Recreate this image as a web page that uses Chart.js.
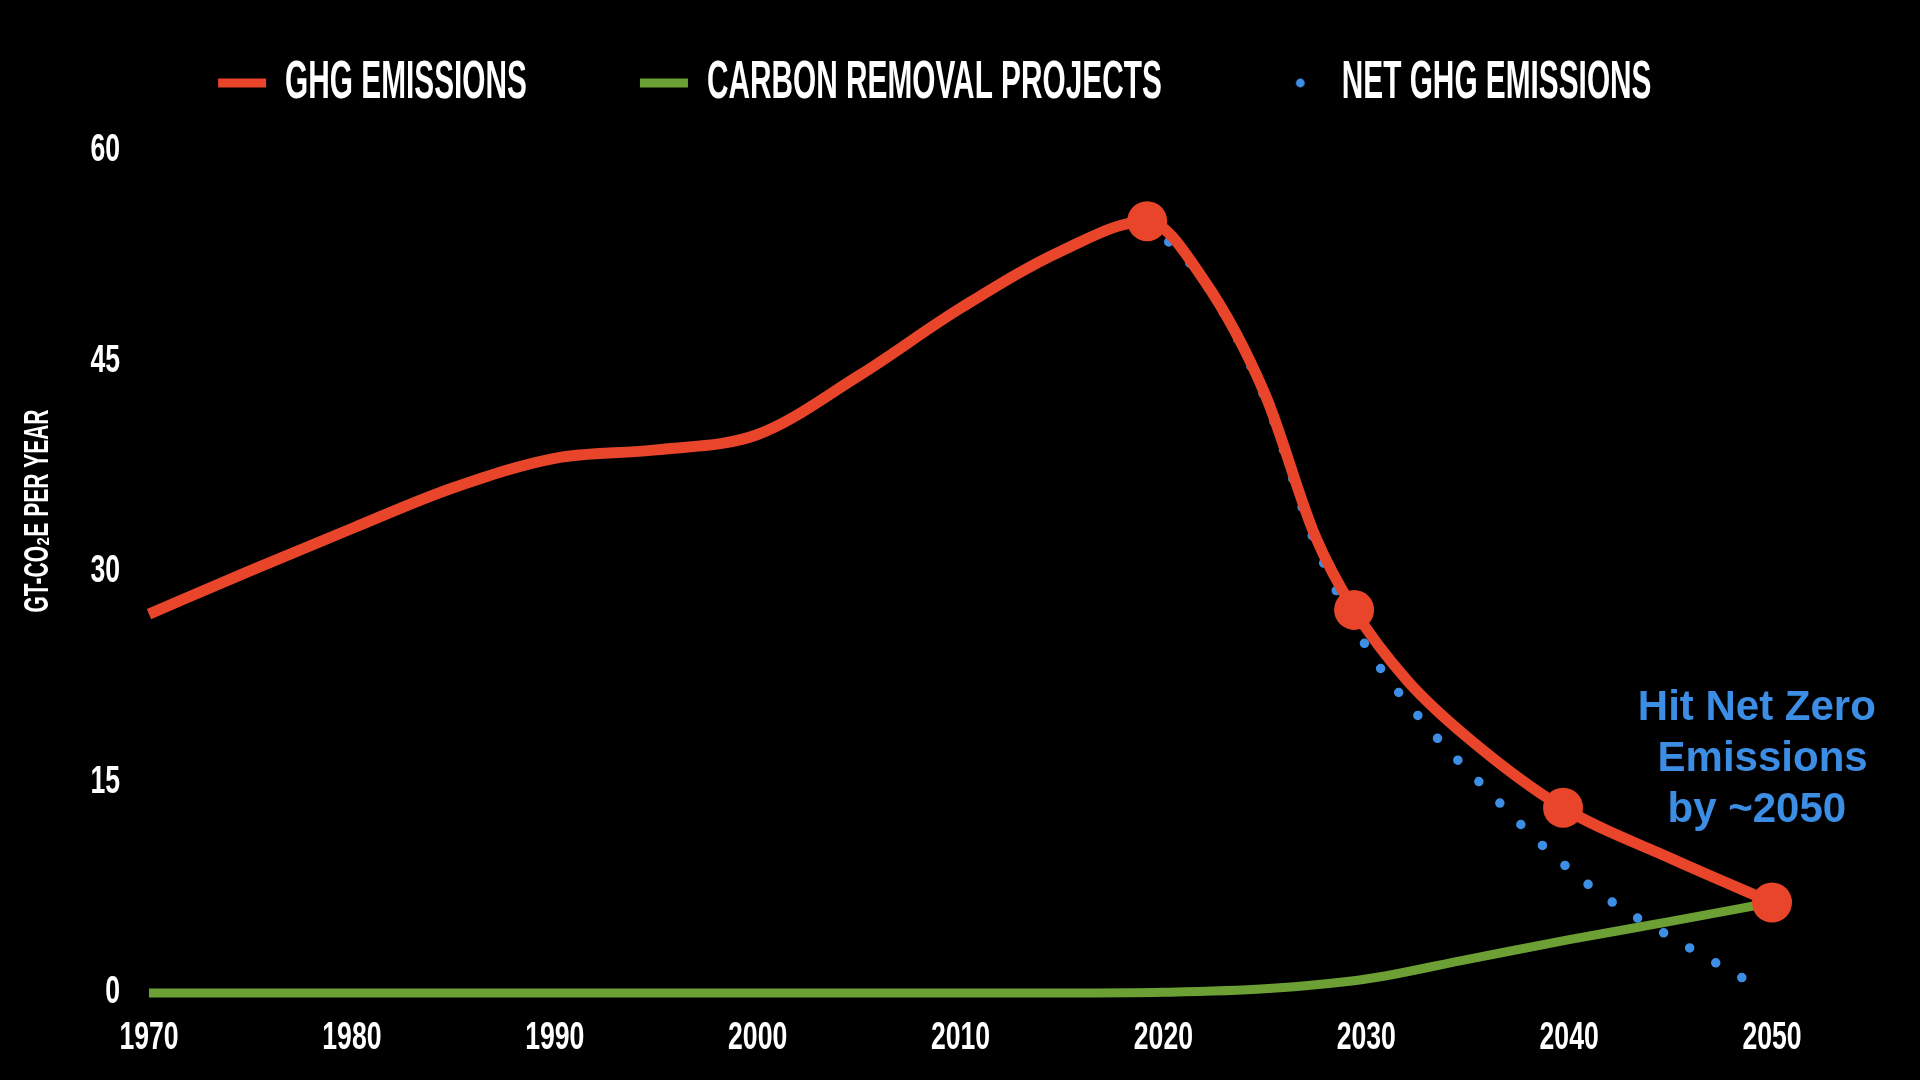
<!DOCTYPE html>
<html>
<head>
<meta charset="utf-8">
<title>GHG emissions and carbon removal</title>
<script src="https://cdn.jsdelivr.net/npm/chart.js@4.4.1/dist/chart.umd.min.js"></script>
<style>
  html, body { margin: 0; padding: 0; background: #000; }
  #wrap { width: 1920px; height: 1080px; }
</style>
</head>
<body>
<div id="wrap"><canvas id="chart" width="1920" height="1080"></canvas></div>
<script>
// ---------------- data ----------------
const ghgYears   = [1970, 1975, 1980, 1985, 1990, 1995, 2000, 2005, 2010, 2015, 2019.2, 2022, 2025, 2027.5, 2029.4, 2032, 2035, 2039.7, 2045, 2050];
const ghgValues  = [27.0, 30.1, 33.1, 36.0, 38.1, 38.7, 39.8, 44.0, 48.8, 52.9, 55.0, 50.8, 42.7, 32.5, 27.3, 22.3, 18.2, 13.2, 9.6, 6.45];
const ghgMarkerYears = [2019.2, 2029.4, 2039.7, 2050];

const removalYears  = [1970, 1990, 2010, 2015, 2020, 2025, 2030, 2035, 2040, 2045, 2050];
const removalValues = [0, 0, 0, 0, 0.05, 0.3, 1.0, 2.4, 3.8, 5.1, 6.45];

const netYears  = [2019.2, 2022, 2025, 2027.5, 2030, 2033, 2036, 2039, 2042, 2045, 2049];
const netValues = [55.0, 50.7, 42.4, 32.0, 24.7, 19.0, 14.4, 10.1, 6.6, 4.0, 0.7];

const seriesLabels = ['GHG EMISSIONS', 'CARBON REMOVAL PROJECTS', 'NET GHG EMISSIONS'];
const xTickYears  = [1970, 1980, 1990, 2000, 2010, 2020, 2030, 2040, 2050];
const yTickValues = [0, 15, 30, 45, 60];
const yAxisTitle  = 'GT-CO\u2082E PER YEAR';
const annotationLines = ['Hit Net Zero', ' Emissions', 'by ~2050'];
const annotationAt = { x: 2049.25, y: 20.25 };

// ---------------- styles ----------------
const RED = '#E9452A', GREEN = '#6CA034', BLUE = '#3D8FE6', NOTE_BLUE = '#3C8DE4';
const CONDENSED = "'Liberation Sans', sans-serif";
// horizontal squeeze of the condensed (poster-style) lettering, by font size
const SQUEEZE = { 54: 0.552, 38: 0.70, 35: 0.60 };

(function installCondensedText() {
  const proto = CanvasRenderingContext2D.prototype;
  const baseFill = proto.fillText, baseMeasure = proto.measureText;
  function squeezeOf(ctx) {
    const f = ctx.font || '';
    if (f.indexOf('Liberation Sans') < 0) return 1;
    const m = /([\d.]+)px/.exec(f);
    return m ? (SQUEEZE[Math.round(parseFloat(m[1]))] || 1) : 1;
  }
  proto.fillText = function (text, x, y, maxWidth) {
    const s = squeezeOf(this);
    if (s === 1) {
      return maxWidth === undefined ? baseFill.call(this, text, x, y) : baseFill.call(this, text, x, y, maxWidth);
    }
    this.save();
    this.translate(x, y);
    this.scale(s, 1);
    if (maxWidth === undefined) baseFill.call(this, text, 0, 0);
    else baseFill.call(this, text, 0, 0, maxWidth / s);
    this.restore();
  };
  proto.measureText = function (text) {
    const m = baseMeasure.call(this, text);
    const s = squeezeOf(this);
    if (s === 1) return m;
    return {
      width: m.width * s,
      actualBoundingBoxLeft: m.actualBoundingBoxLeft * s,
      actualBoundingBoxRight: m.actualBoundingBoxRight * s,
      actualBoundingBoxAscent: m.actualBoundingBoxAscent,
      actualBoundingBoxDescent: m.actualBoundingBoxDescent,
      fontBoundingBoxAscent: m.fontBoundingBoxAscent,
      fontBoundingBoxDescent: m.fontBoundingBoxDescent
    };
  };
})();

// legend swatches: drawn right-aligned inside a wide transparent icon box
function legendIcon(kind, color) {
  const c = document.createElement('canvas');
  c.width = 207; c.height = 12;
  const g = c.getContext('2d');
  g.fillStyle = color;
  if (kind === 'line') {
    g.fillRect(140, 1.5, 48, 9);
  } else {
    g.beginPath(); g.arc(165.5, 6, 4.4, 0, Math.PI * 2); g.fill();
  }
  return c;
}
const legendIcons = [legendIcon('line', RED), legendIcon('line', GREEN), legendIcon('dot', BLUE)];

const toPoints = (xs, ys) => xs.map((x, i) => ({ x, y: ys[i] }));

const annotationPlugin = {
  id: 'netZeroNote',
  afterDraw(chart) {
    const { ctx, scales } = chart;
    const px = scales.x.getPixelForValue(annotationAt.x);
    const py = scales.y.getPixelForValue(annotationAt.y);
    ctx.save();
    ctx.font = 'bold 42px Arial, Helvetica, sans-serif';
    ctx.fillStyle = NOTE_BLUE;
    ctx.textAlign = 'center';
    ctx.textBaseline = 'middle';
    annotationLines.forEach((t, i) => ctx.fillText(t, px, py + i * 51));
    ctx.restore();
  }
};

Chart.defaults.font.family = CONDENSED;
Chart.defaults.color = '#ffffff';

new Chart(document.getElementById('chart'), {
  type: 'line',
  data: {
    datasets: [
      {
        label: seriesLabels[0],
        data: toPoints(ghgYears, ghgValues),
        borderColor: RED,
        backgroundColor: RED,
        borderWidth: 11,
        cubicInterpolationMode: 'monotone',
        pointRadius: c => (c.raw && ghgMarkerYears.includes(c.raw.x)) ? 20 : 0,
        pointHoverRadius: c => (c.raw && ghgMarkerYears.includes(c.raw.x)) ? 20 : 0,
        pointBackgroundColor: RED,
        pointBorderWidth: 0,
        clip: false
      },
      {
        label: seriesLabels[1],
        data: toPoints(removalYears, removalValues),
        borderColor: GREEN,
        backgroundColor: GREEN,
        borderWidth: 9,
        cubicInterpolationMode: 'monotone',
        pointRadius: 0,
        pointHoverRadius: 0,
        clip: false
      },
      {
        label: seriesLabels[2],
        data: toPoints(netYears, netValues),
        borderColor: BLUE,
        backgroundColor: BLUE,
        borderWidth: 9.5,
        borderDash: [0, 30],
        borderCapStyle: 'round',
        cubicInterpolationMode: 'monotone',
        pointRadius: 0,
        pointHoverRadius: 0,
        clip: false
      }
    ]
  },
  options: {
    responsive: false,
    animation: false,
    events: [],
    layout: { padding: { left: 0, right: 163.4, top: 56, bottom: 0 } },
    plugins: {
      tooltip: { enabled: false },
      legend: {
        position: 'top',
        align: 'center',
        labels: {
          color: '#ffffff',
          font: { size: 54, weight: 'bold', family: CONDENSED },
          usePointStyle: true,
          pointStyleWidth: 153,
          padding: 0,
          generateLabels: chart => chart.data.datasets.map((d, i) => ({
            text: d.label,
            pointStyle: legendIcons[i],
            fontColor: '#ffffff',
            fillStyle: 'rgba(0,0,0,0)',
            strokeStyle: 'rgba(0,0,0,0)',
            lineWidth: 0,
            hidden: false,
            datasetIndex: i
          }))
        }
      }
    },
    scales: {
      x: {
        type: 'linear',
        min: 1970,
        max: 2049.24,
        afterBuildTicks: s => { s.ticks = xTickYears.map(v => ({ value: v })); },
        afterFit: s => { s.height = 178; },
        grid: { display: false, drawTicks: false },
        border: { display: false },
        ticks: {
          color: '#ffffff',
          font: { size: 38, weight: 'bold', family: CONDENSED },
          padding: 114,
          maxRotation: 0,
          autoSkip: false,
          callback: v => String(v)
        }
      },
      y: {
        min: 6.485,
        max: 62.209,
        afterBuildTicks: s => { s.ticks = yTickValues.map(v => ({ value: v })); },
        afterFit: s => { s.width = 149; },
        grid: { display: false, drawTicks: false },
        border: { display: false },
        ticks: {
          color: '#ffffff',
          font: { size: 38, weight: 'bold', family: CONDENSED },
          padding: 29,
          callback: v => String(v)
        },
        title: {
          display: true,
          text: yAxisTitle,
          color: '#ffffff',
          font: { size: 35, weight: 'bold', family: CONDENSED },
          padding: { top: 17, bottom: 0 }
        }
      }
    }
  },
  plugins: [annotationPlugin]
});
</script>
</body>
</html>
